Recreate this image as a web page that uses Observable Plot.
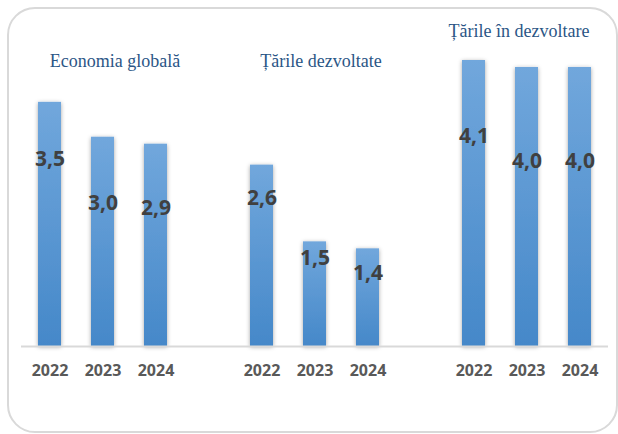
<!DOCTYPE html>
<html>
<head>
<meta charset="utf-8">
<script src="https://cdn.jsdelivr.net/npm/d3@7"></script>
<script src="https://cdn.jsdelivr.net/npm/@observablehq/plot@0.6"></script>
<style>
  html, body { margin: 0; padding: 0; background: #fff; }
  #wrap { position: relative; width: 618px; height: 434px; overflow: hidden; }
  #frame { position: absolute; left: 7px; top: 7px; width: 611px; height: 426px; box-sizing: border-box;
           border: 2px solid #d9d9d9; border-radius: 28px; pointer-events: none; }
</style>
</head>
<body>
<div id="wrap"><div id="frame"></div></div>
<script>
// ---- data ----
const groups = ["Economia globală", "Țările dezvoltate", "Țările în dezvoltare"];
const years = ["2022", "2023", "2024"];
const values = [
  [3.5, 3.0, 2.9],
  [2.6, 1.5, 1.4],
  [4.1, 4.0, 4.0]
];
// value-axis level at which each bar's number is printed
const labelAt = [
  [2.69, 2.05, 1.98],
  [2.12, 1.26, 1.05],
  [3.01, 2.66, 2.66]
];

// ---- build table ----
const rows = [];
const slots = [];
groups.forEach((g, gi) => {
  if (gi > 0) slots.push("gap" + gi);
  years.forEach((y, yi) => {
    const key = g + "|" + y;
    slots.push(key);
    rows.push({group: g, year: y, key, value: values[gi][yi], at: labelAt[gi][yi]});
  });
});
const titleRows = groups.map((g, gi) => ({group: g, key: g + "|" + years[1]}));
const fmt = v => v.toFixed(1).replace(".", ",");

const titleLayout = [{dx: 12, dy: 61}, {dx: 6, dy: 61}, {dx: -8, dy: 31}];

const chart = Plot.plot({
  width: 618,
  height: 434,
  marginLeft: 21,
  marginRight: 10,
  marginTop: 0,
  marginBottom: 0,
  style: {background: "transparent", overflow: "visible"},
  x: {type: "band", domain: slots, paddingInner: 0.57, paddingOuter: 0.285, axis: null},
  y: {domain: [0, 4.1], range: [346, 60], axis: null},
  marks: [
    Plot.barY(rows, {x: "key", y: "value", fill: "url(#barGrad)"}),
    Plot.ruleY([0], {stroke: "#d9d9d9", strokeWidth: 2}),
    Plot.text(rows, {x: "key", y: "at", text: d => fmt(d.value),
      fill: "#404040", fontSize: 21, fontWeight: "bold", fontFamily: "Open Sans, sans-serif"}),
    Plot.text(rows, {x: "key", y: 0, dy: 24, text: "year",
      fill: "#595959", fontSize: 16, fontWeight: "bold", fontFamily: "Open Sans, sans-serif"}),
    ...titleRows.map((t, i) => Plot.text([t], {x: "key", frameAnchor: "top", lineAnchor: "middle",
      dx: titleLayout[i].dx, dy: titleLayout[i].dy, text: "group",
      fill: "#2b5686", fontSize: 18, fontFamily: "Liberation Serif, Times New Roman, serif"}))
  ]
});

// gradient + shadow definitions
const svg = d3.select(chart);
const defs = svg.insert("defs", ":first-child");
const grad = defs.append("linearGradient").attr("id", "barGrad")
  .attr("x1", 0).attr("y1", 0).attr("x2", 0).attr("y2", 1);
grad.append("stop").attr("offset", "0%").attr("stop-color", "#71a7dc");
grad.append("stop").attr("offset", "100%").attr("stop-color", "#4588c9");
const f = defs.append("filter").attr("id", "barShadow")
  .attr("x", "-40%").attr("y", "-10%").attr("width", "180%").attr("height", "120%");
f.append("feDropShadow").attr("dx", 0).attr("dy", 1).attr("stdDeviation", 2)
  .attr("flood-color", "#000").attr("flood-opacity", 0.35);
svg.select("g[aria-label='bar']").attr("filter", "url(#barShadow)");

document.getElementById("wrap").prepend(chart);
</script>
</body>
</html>
